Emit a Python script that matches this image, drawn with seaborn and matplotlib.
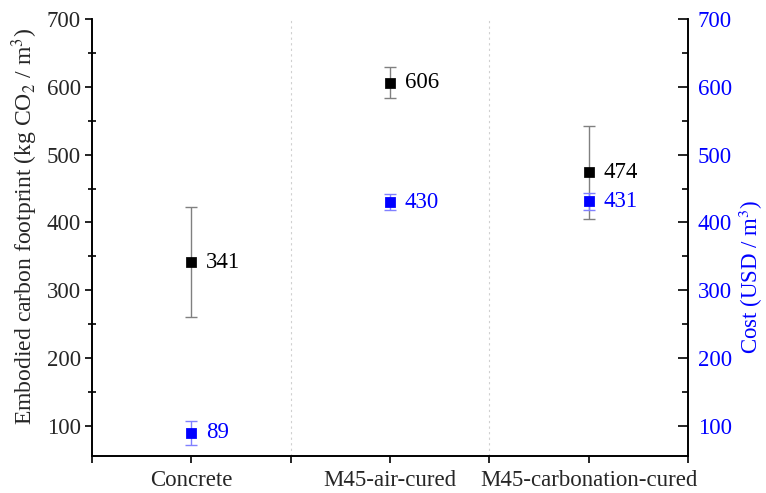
import matplotlib
matplotlib.use("Agg")
import matplotlib.pyplot as plt
import seaborn as sns
import pandas as pd
from matplotlib.ticker import MultipleLocator, FixedLocator

categories = ["Concrete", "M45-air-cured", "M45-carbonation-cured"]
carbon = [341, 606, 474]
carbon_err = [81, 23, 69]
cost = [89, 430, 431]
cost_err = [18, 12, 13]

sns.set_theme(style="white")
plt.rcParams["font.family"] = ["Liberation Serif", "DejaVu Serif"]
plt.rcParams["mathtext.fontset"] = "stix"

FS = 16.5
df = pd.DataFrame({"pos": [0.5, 1.5, 2.5], "carbon": carbon, "cost": cost,
                   "carbon_err": carbon_err, "cost_err": cost_err,
                   "category": categories})

fig, ax = plt.subplots(figsize=(7.66, 4.93), dpi=100)
fig.subplots_adjust(left=0.120, right=0.898, top=0.961, bottom=0.075)
ax2 = ax.twinx()

# carbon footprint (left axis)
ax.errorbar(df["pos"], df["carbon"], yerr=df["carbon_err"], fmt="none",
            ecolor="#808080", elinewidth=1, capsize=4, capthick=1, zorder=2)
sns.scatterplot(data=df, x="pos", y="carbon", ax=ax, marker="s", s=45,
                color="black", edgecolor="black", zorder=3, legend=False)
for x, v in zip(df["pos"], df["carbon"]):
    ax.text(x + 0.075, v, f"{v}", va="center", ha="left", fontsize=FS, color="black")

# cost (right axis)
ax2.errorbar(df["pos"], df["cost"], yerr=df["cost_err"], fmt="none",
             ecolor="#8080ff", elinewidth=1, capsize=4, capthick=1, zorder=2)
sns.scatterplot(data=df, x="pos", y="cost", ax=ax2, marker="s", s=50,
                color="blue", edgecolor="blue", zorder=3, legend=False)
for x, v in zip(df["pos"], df["cost"]):
    ax2.text(x + 0.075, v, f"{v}", va="center", ha="left", fontsize=FS, color="blue")

for a in (ax, ax2):
    a.set_xlim(0, 3)
    a.set_ylim(55, 700)
    a.yaxis.set_major_locator(MultipleLocator(100))
    a.yaxis.set_minor_locator(MultipleLocator(50))

ax.set_xticks(df["pos"])
ax.set_xticklabels(categories, fontsize=FS)
ax.xaxis.set_minor_locator(FixedLocator([0, 1, 2, 3]))
ax.set_xlabel("")
ax.set_ylabel("Embodied carbon footprint (kg CO$_2$ / m$^3$)", fontsize=17)
ax.yaxis.set_label_coords(-0.087, 0.525)
ax2.set_ylabel("Cost (USD / m$^3$)", fontsize=16.5, color="blue")
ax2.yaxis.set_label_coords(1.082, 0.41)

for xg in (1, 2):
    ax.axvline(xg, color="#d0d0d0", linestyle=(0, (2, 3)), linewidth=0.8, zorder=0)

ax.tick_params(axis="x", which="both", direction="out", length=5, width=1.2,
               bottom=True, color="black", labelsize=FS, pad=5)
ax.tick_params(axis="y", which="major", direction="out", length=5, width=1.2,
               left=True, color="black", labelsize=FS, pad=3)
ax.tick_params(axis="y", which="minor", direction="inout", length=6, width=1.2,
               left=True, color="black")
ax2.tick_params(axis="y", which="major", direction="in", length=7, width=1.2,
                right=True, color="black", labelcolor="blue", labelsize=FS, pad=7)
ax2.tick_params(axis="y", which="minor", direction="in", length=4, width=1.2,
                right=True, color="black")

for a in (ax, ax2):
    a.spines["top"].set_visible(False)
    for s in ("left", "right", "bottom"):
        a.spines[s].set_color("black")
        a.spines[s].set_linewidth(1.2)
ax2.set_xlabel("")

fig.savefig("out.png", dpi=100)
